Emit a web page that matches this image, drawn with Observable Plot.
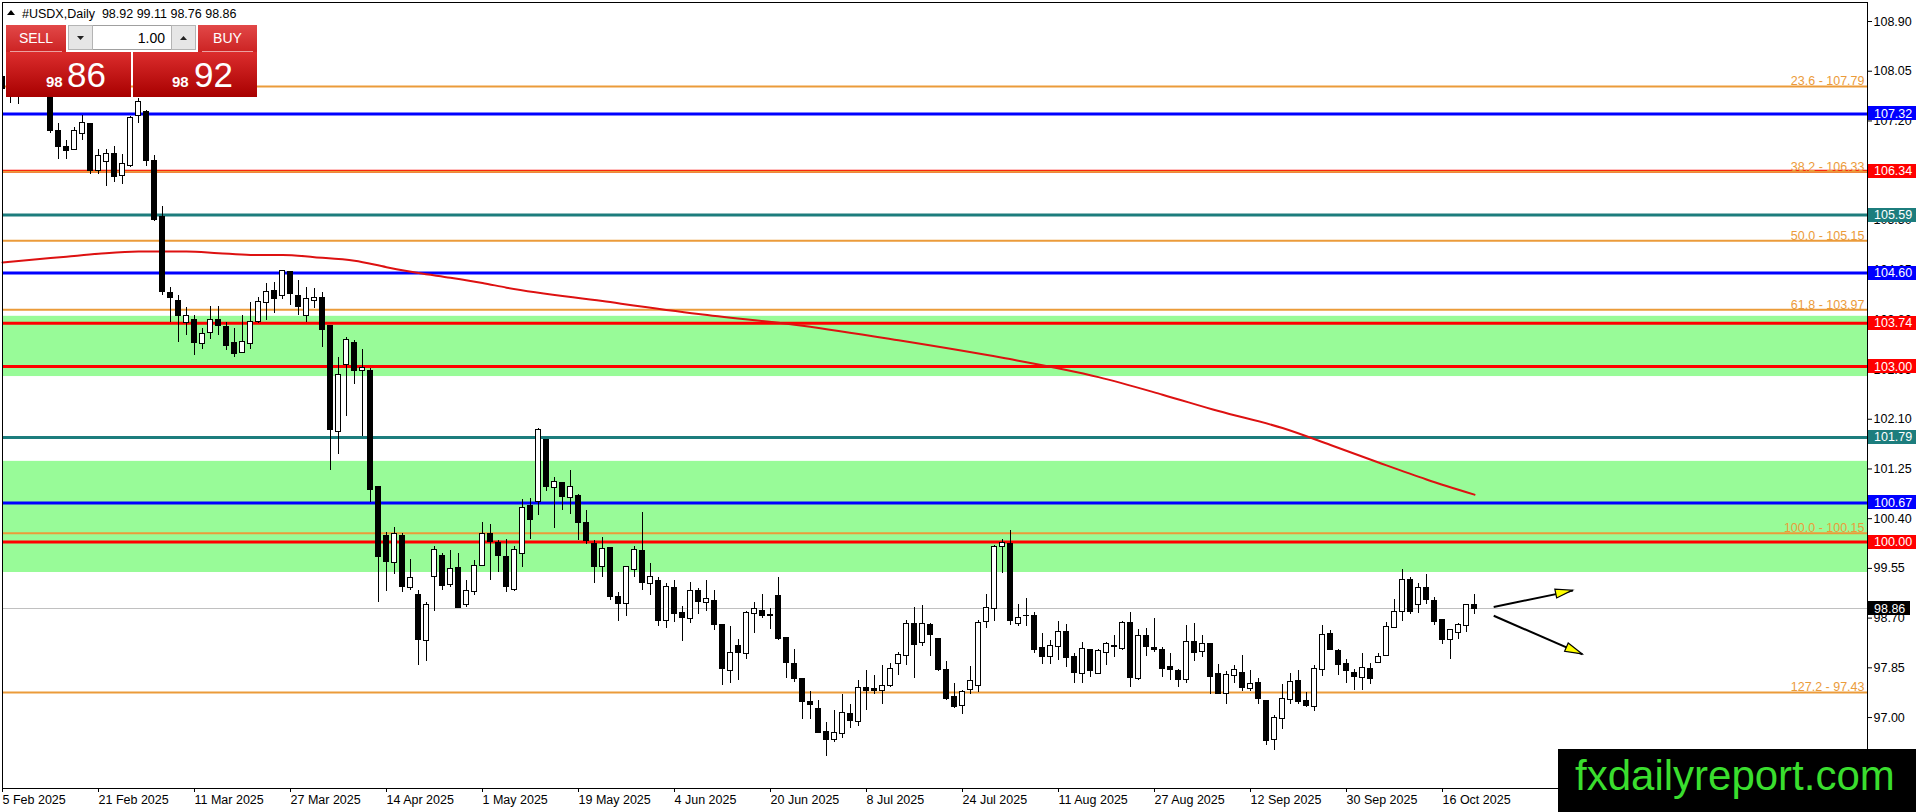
<!DOCTYPE html>
<html>
<head>
<meta charset="utf-8">
<script src="https://cdn.jsdelivr.net/npm/d3@7"></script>
<script src="https://cdn.jsdelivr.net/npm/@observablehq/plot@0.6"></script>
<style>
  html, body { margin: 0; padding: 0; background: #fff; overflow: hidden; }
  #chart svg { display: block; }
</style>
</head>
<body>
<div id="chart"></div>
<script>
// ---------- DATA ----------
const symbolName = "#USDX,Daily";
const askPrice = 98.92;
const lotSize = "1.00";

// Daily candles, one per trading day starting 5 Feb 2025 (index 0)
const open = [
  107.95,107.75,107.80,108.05,108.25,107.95,107.90,107.02,106.76,106.71,
  106.97,107.14,106.35,106.49,106.64,106.26,106.43,107.28,107.35,106.52,
  105.55,104.26,104.13,103.74,103.80,103.39,103.58,103.80,103.67,103.41,
  103.24,103.39,103.76,104.08,104.30,104.20,104.61,104.20,103.87,104.12,
  104.18,103.70,101.88,103.02,103.41,102.93,102.93,100.95,100.11,99.64,
  100.11,99.22,99.09,98.31,99.40,99.77,99.27,99.56,98.92,99.14,
  99.59,100.14,99.98,99.75,99.18,99.80,100.61,100.68,101.75,100.93,
  101.01,100.76,100.78,100.33,99.97,99.57,99.90,99.06,98.94,99.53,
  99.84,99.29,99.33,98.65,99.21,98.78,98.69,99.16,98.95,99.00,
  98.59,97.80,98.23,98.09,98.77,98.83,98.76,99.07,98.36,97.92,
  97.66,97.27,97.15,96.76,96.61,96.72,97.06,96.93,97.50,97.48,
  97.45,97.54,97.92,98.06,98.60,98.28,98.58,98.35,97.82,97.35,
  97.19,97.47,97.54,98.63,98.86,99.92,99.97,98.60,98.74,98.74,
  98.19,98.03,98.20,98.47,98.04,97.75,98.16,97.75,98.11,98.22,
  98.18,98.61,97.66,98.40,98.19,98.15,97.86,97.80,97.64,98.29,
  98.12,98.25,97.75,97.41,97.71,97.77,97.48,97.59,97.29,96.62,
  96.98,97.30,97.62,97.28,97.18,97.82,98.43,98.13,97.92,97.76,
  97.68,97.83,97.94,98.06,98.53,98.81,99.35,98.93,99.22,99.00,
  98.66,98.32,98.44,98.56,98.92
];
const high = [
  108.10,107.95,108.15,108.35,108.40,108.45,108.00,107.15,106.87,107.09,
  107.29,107.15,106.71,106.71,106.76,106.62,107.28,107.59,107.38,106.61,
  105.74,104.35,104.22,104.01,103.87,103.66,104.03,104.03,103.76,103.65,
  103.87,104.09,104.19,104.42,104.43,104.64,104.63,104.47,104.36,104.33,
  104.27,103.70,103.15,103.49,103.44,103.29,102.96,100.95,100.17,100.25,
  100.14,99.71,99.17,98.97,99.92,99.80,99.86,99.80,99.34,99.68,
  100.34,100.30,100.03,100.05,99.92,100.72,100.74,101.94,101.76,101.11,
  101.02,101.22,100.82,100.54,100.03,100.08,99.91,99.13,99.58,99.92,
  100.51,99.64,99.40,99.30,99.35,98.90,99.31,99.20,99.35,99.18,
  98.59,98.56,98.33,98.82,98.97,99.11,98.86,99.39,98.37,98.16,
  97.66,97.45,97.29,96.92,97.12,97.39,97.22,97.63,97.80,97.72,
  97.89,97.92,98.12,98.66,98.88,98.92,98.60,98.36,97.95,97.58,
  97.46,97.87,98.66,99.10,99.94,100.05,100.20,98.94,99.03,98.80,
  98.43,98.32,98.65,98.59,98.09,98.29,98.17,98.16,98.29,98.40,
  98.64,98.80,98.50,98.53,98.70,98.19,98.10,97.83,98.57,98.61,
  98.40,98.25,97.91,97.79,97.89,98.06,97.81,97.66,97.29,97.03,
  97.56,97.76,97.80,97.42,97.89,98.57,98.49,98.16,98.00,97.83,
  98.09,97.92,98.09,98.62,99.01,99.53,99.39,99.30,99.45,99.06,
  98.66,98.50,98.61,98.94,99.11
];
const low = [
  107.70,107.50,107.48,107.95,107.80,107.70,106.99,106.54,106.54,106.70,
  106.87,106.28,106.28,106.08,106.15,106.12,106.40,107.15,106.42,105.48,
  104.22,103.76,103.42,103.53,103.19,103.30,103.47,103.53,103.27,103.16,
  103.22,103.29,103.74,103.79,103.90,104.14,104.04,103.87,103.76,103.99,
  103.33,101.22,101.50,102.14,102.69,101.81,100.67,98.97,99.16,99.45,
  99.13,99.17,97.89,97.96,98.82,99.17,99.23,98.86,98.89,99.09,
  99.59,99.35,99.48,99.13,99.15,99.57,100.04,100.45,100.87,100.23,
  100.54,100.47,100.02,99.96,99.30,99.40,99.00,98.65,98.73,99.40,
  99.18,99.09,98.56,98.53,98.63,98.30,98.61,98.77,98.82,98.48,
  97.55,97.58,97.64,97.99,98.44,98.70,98.50,98.32,97.66,97.60,
  96.96,96.96,96.72,96.33,96.58,96.65,96.82,96.85,97.12,97.40,
  97.23,97.52,97.72,97.89,97.66,98.22,98.05,97.78,97.29,97.15,
  97.06,97.39,97.43,98.53,98.65,99.47,98.57,98.55,98.55,98.09,
  97.91,97.91,97.98,97.86,97.59,97.59,97.69,97.74,97.89,98.02,
  98.14,97.52,97.64,98.04,98.12,97.69,97.63,97.51,97.58,97.96,
  98.03,97.39,97.39,97.22,97.58,97.45,97.45,97.23,96.52,96.44,
  96.80,97.22,97.23,97.17,97.11,97.70,98.14,97.72,97.59,97.46,
  97.47,97.56,97.93,98.04,98.52,98.65,98.77,98.78,98.94,98.57,
  98.25,97.99,98.33,98.46,98.76
];
const close = [
  107.75,107.80,108.05,108.25,107.95,107.90,107.02,106.75,106.68,107.02,
  107.16,106.35,106.60,106.63,106.24,106.47,107.25,107.52,106.52,105.50,
  104.27,104.18,103.86,103.87,103.40,103.56,103.80,103.69,103.35,103.22,
  103.42,103.77,104.10,104.27,104.16,104.63,104.24,104.02,104.16,104.18,
  103.63,101.92,102.86,103.46,102.93,102.97,100.89,99.75,99.66,100.13,
  99.23,99.38,98.33,98.93,99.87,99.25,99.54,98.88,99.16,99.59,
  100.14,100.00,99.77,99.23,99.87,100.58,100.38,101.91,100.94,101.03,
  100.77,100.95,100.32,100.02,99.57,99.89,99.06,98.94,99.57,99.86,
  99.30,99.41,98.65,99.24,98.77,98.70,99.17,98.97,99.02,98.59,
  97.83,98.11,98.10,98.78,98.85,98.73,98.74,98.35,97.93,97.66,
  97.26,97.22,96.73,96.61,96.74,97.08,96.94,97.50,97.45,97.46,
  97.54,97.83,98.07,98.60,98.24,98.60,98.41,97.82,97.32,97.18,
  97.44,97.62,98.61,98.88,99.91,99.99,98.65,98.70,98.73,98.16,
  98.03,98.23,98.47,98.02,97.76,98.17,97.79,98.13,98.25,98.20,
  98.61,97.67,98.40,98.21,98.15,97.83,97.82,97.64,98.29,98.10,
  98.25,97.69,97.41,97.73,97.82,97.51,97.58,97.32,96.60,96.99,
  97.32,97.60,97.26,97.19,97.83,98.41,98.15,97.90,97.79,97.69,
  97.85,97.66,98.04,98.55,98.81,99.35,98.80,99.22,99.01,98.63,
  98.33,98.50,98.59,98.93,98.86
];

// Moving average (red curve), sampled at bar indexes
const maBar   = [0,4,8,12,17,23,27,31,35,39,44,48,52,56,60,63,75,87,100,112,125,137,145,152,160,166,172,178,184];
const maValue = [104.78,104.83,104.88,104.93,104.97,104.97,104.94,104.91,104.91,104.87,104.81,104.70,104.60,104.52,104.43,104.35,104.12,103.90,103.70,103.45,103.15,102.82,102.52,102.24,101.95,101.66,101.36,101.07,100.81];

// Horizontal levels
const blueLevels = [107.32, 104.60, 100.67];
const redLevels  = [106.34, 103.74, 103.00, 100.00];
const tealLevels = [105.59, 101.79];

// Fibonacci levels
const fibRatio = ["23.6", "38.2", "50.0", "61.8", "100.0", "127.2"];
const fibPrice = [107.79, 106.33, 105.15, 103.97, 100.15, 97.43];

// Green zones
const zoneLow  = [102.83, 99.48];
const zoneHigh = [103.86, 101.38];

// Arrow annotations (bar index, price)
const arrowStartBar   = [186.4, 186.4];
const arrowStartPrice = [98.89, 98.74];
const arrowEndBar     = [196.3, 197.5];
const arrowEndPrice   = [99.17, 98.08];

// Axis ticks
const xTickBars   = [0,12,24,36,48,60,72,84,96,108,120,132,144,156,168,180];
const xTickLabels = ["5 Feb 2025","21 Feb 2025","11 Mar 2025","27 Mar 2025","14 Apr 2025","1 May 2025","19 May 2025","4 Jun 2025","20 Jun 2025","8 Jul 2025","24 Jul 2025","11 Aug 2025","27 Aug 2025","12 Sep 2025","30 Sep 2025","16 Oct 2025"];
const yTicks = [108.90,108.05,107.20,106.35,105.50,104.65,103.80,102.95,102.10,101.25,100.40,99.55,98.70,97.85,97.00];

const watermarkText = "fxdailyreport.com";

// ---------- BUILD ----------
const FONT = '"Liberation Sans", Arial, sans-serif';
const ORANGE = "#eb9b3a";
const W = 1916, H = 812;
const M = {top: 2, right: 49, bottom: 24, left: 2};
const xMax = 233.125;           // bar slots visible across the plot
const yDomain = [95.787, 109.225];

const candles = open.map((o, i) => ({i, open: o, high: high[i], low: low[i], close: close[i]}));
const ma = maBar.map((b, k) => ({i: b, v: maValue[k]}));
const fib = fibPrice.map((p, k) => ({ratio: fibRatio[k], price: p}));
const zones = zoneLow.map((lo, k) => ({lo, hi: zoneHigh[k]}));
const arrows = arrowStartBar.map((b, k) => ({x1: b, y1: arrowStartPrice[k], x2: arrowEndBar[k], y2: arrowEndPrice[k]}));
const last = candles[candles.length - 1];

const chart = Plot.plot({
  width: W, height: H,
  marginTop: M.top, marginRight: M.right, marginBottom: M.bottom, marginLeft: M.left,
  x: {type: "linear", domain: [0, xMax]},
  y: {type: "linear", domain: yDomain},
  style: {fontFamily: FONT, fontSize: "12.5px", background: "#fff", color: "#000", overflow: "visible"},
  marks: [
    Plot.rect(zones, {x1: () => 0, x2: () => xMax, y1: "lo", y2: "hi", fill: "#98fb98"}),
    Plot.ruleY([last.close], {stroke: "#c0c0c0", strokeWidth: 1, shapeRendering: "crispEdges"}),
    Plot.ruleY(redLevels, {stroke: "#ff0000", strokeWidth: 3}),
    Plot.ruleY(blueLevels, {stroke: "#0000ff", strokeWidth: 3}),
    Plot.ruleY(tealLevels, {stroke: "#1c7d7d", strokeWidth: 3}),
    Plot.ruleY(fib, {y: "price", stroke: ORANGE, strokeWidth: 2}),
    Plot.text(fib, {x: () => xMax, y: "price", text: d => `${d.ratio} - ${d.price.toFixed(2)}`,
      textAnchor: "end", lineAnchor: "bottom", dx: -3, dy: -1, fill: ORANGE}),
    Plot.line(ma, {x: "i", y: "v", stroke: "#dd1111", strokeWidth: 2, curve: "monotone-x"}),
    Plot.ruleX(candles, {x: "i", y1: "low", y2: "high", stroke: "#000", strokeWidth: 1, shapeRendering: "crispEdges", clip: true}),
    Plot.rect(candles, {x1: d => d.i - 0.27, x2: d => d.i + 0.27, y1: "open", y2: "close",
      fill: d => d.close >= d.open ? "#ffffff" : "#000000", stroke: "#000", strokeWidth: 1,
      shapeRendering: "crispEdges", clip: true}),
    Plot.link(arrows, {x1: "x1", y1: "y1", x2: "x2", y2: "y2", stroke: "#000", strokeWidth: 2}),
    Plot.frame({stroke: "#000", shapeRendering: "crispEdges"}),
    Plot.axisX({anchor: "bottom", ticks: xTickBars, tickFormat: d => xTickLabels[xTickBars.indexOf(d)],
      tickSize: 4, tickPadding: 3, textAnchor: "start", label: null}),
    Plot.axisY({anchor: "right", ticks: yTicks, tickFormat: d => d.toFixed(2), tickSize: 4, tickPadding: 2, label: null})
  ]
});
document.getElementById("chart").appendChild(chart);

// ---------- OVERLAYS (positioned with the plot's scales) ----------
const svg = d3.select(chart);
const X = chart.scale("x"), Y = chart.scale("y");
const plotRight = W - M.right;

// arrow heads
arrows.forEach(a => {
  const x1 = X.apply(a.x1), y1 = Y.apply(a.y1), x2 = X.apply(a.x2), y2 = Y.apply(a.y2);
  const ang = Math.atan2(y2 - y1, x2 - x1);
  const L = 17, hw = 4.5;
  const bx = x2 - L * Math.cos(ang), by = y2 - L * Math.sin(ang);
  const px = -Math.sin(ang) * hw, py = Math.cos(ang) * hw;
  svg.append("polygon")
    .attr("points", `${x2},${y2} ${bx + px},${by + py} ${bx - px},${by - py}`)
    .attr("fill", "#ffff00").attr("stroke", "#000").attr("stroke-width", 1.2);
});

// price label boxes on the right axis
const boxes = [
  ...blueLevels.map(v => ({v, c: "#0000ff", w: W - plotRight})),
  ...redLevels.map(v => ({v, c: "#ff0000", w: W - plotRight})),
  ...tealLevels.map(v => ({v, c: "#1c7d7d", w: W - plotRight})),
  {v: last.close, c: "#000000", w: 43}
];
const gb = svg.append("g").attr("font-family", FONT).attr("font-size", "12.5px").attr("text-anchor", "start");
boxes.forEach(b => {
  const y = Y.apply(b.v);
  gb.append("rect").attr("x", plotRight + 1).attr("y", Math.round(y) - 7).attr("width", b.w - 1).attr("height", 14).attr("fill", b.c);
  gb.append("text").attr("x", plotRight + 7).attr("y", y).attr("dy", "0.36em").attr("fill", "#fff").text(b.v.toFixed(2));
});

// gradients for the trade panel
const defs = svg.append("defs");
function grad(id, a, b) {
  const g = defs.append("linearGradient").attr("id", id).attr("x1", 0).attr("y1", 0).attr("x2", 0).attr("y2", 1);
  g.append("stop").attr("offset", "0%").attr("stop-color", a);
  g.append("stop").attr("offset", "100%").attr("stop-color", b);
}
grad("gBtn", "#e24848", "#cc2323");
grad("gBig", "#dc2d2d", "#a80000");

const ov = svg.append("g").attr("font-family", FONT).attr("text-anchor", "start");
// header
ov.append("polygon").attr("points", "7,15 11,10 15,15").attr("fill", "#000");
ov.append("text").attr("x", 22).attr("y", 17.5).attr("font-size", "12.5px").attr("fill", "#000")
  .style("white-space", "pre").attr("xml:space", "preserve")
  .text(`${symbolName}  ${last.open.toFixed(2)} ${last.high.toFixed(2)} ${last.low.toFixed(2)} ${last.close.toFixed(2)}`);

// SELL / BUY buttons
[[6, 60, "SELL"], [198, 59, "BUY"]].forEach(([x, w, t]) => {
  ov.append("rect").attr("x", x).attr("y", 25).attr("width", w).attr("height", 27).attr("fill", "url(#gBtn)");
  ov.append("line").attr("x1", x + 4).attr("x2", x + w - 4).attr("y1", 51.5).attr("y2", 51.5).attr("stroke", "#eba0a0");
  ov.append("text").attr("x", x + w / 2).attr("y", 43).attr("text-anchor", "middle").attr("font-size", "14px").attr("fill", "#fff").text(t);
});
// lot size box
ov.append("rect").attr("x", 68.5).attr("y", 25.5).attr("width", 127).attr("height", 24).attr("fill", "#fff").attr("stroke", "#a0a0a0");
ov.append("rect").attr("x", 68.5).attr("y", 25.5).attr("width", 24).attr("height", 24).attr("fill", "#e6e6e6").attr("stroke", "#b4b4b4");
ov.append("rect").attr("x", 171.5).attr("y", 25.5).attr("width", 24).attr("height", 24).attr("fill", "#e6e6e6").attr("stroke", "#b4b4b4");
ov.append("polygon").attr("points", "77,36 84,36 80.5,40").attr("fill", "#222");
ov.append("polygon").attr("points", "180,40 187,40 183.5,36").attr("fill", "#222");
ov.append("text").attr("x", 165).attr("y", 43).attr("text-anchor", "end").attr("font-size", "14px").attr("fill", "#000").text(lotSize);

// big price boxes
function bigBox(x, w, price, smallX, bigX) {
  const s = price.toFixed(2).split(".");
  ov.append("rect").attr("x", x).attr("y", 52).attr("width", w).attr("height", 45).attr("fill", "url(#gBig)");
  ov.append("text").attr("x", smallX).attr("y", 87).attr("font-size", "15px").attr("font-weight", "bold").attr("fill", "#fff").text(s[0]);
  ov.append("text").attr("x", bigX).attr("y", 87).attr("font-size", "35px").attr("fill", "#fff").text(s[1]);
}
bigBox(6, 125, last.close, 46, 67);
bigBox(133, 124, askPrice, 172, 194);

// watermark
ov.append("rect").attr("x", 1558).attr("y", 749).attr("width", W - 1558).attr("height", H - 749).attr("fill", "#000");
ov.append("text").attr("x", 1575).attr("y", 790).attr("font-size", "42px").attr("fill", "#3ade2e").text(watermarkText);
</script>
</body>
</html>
